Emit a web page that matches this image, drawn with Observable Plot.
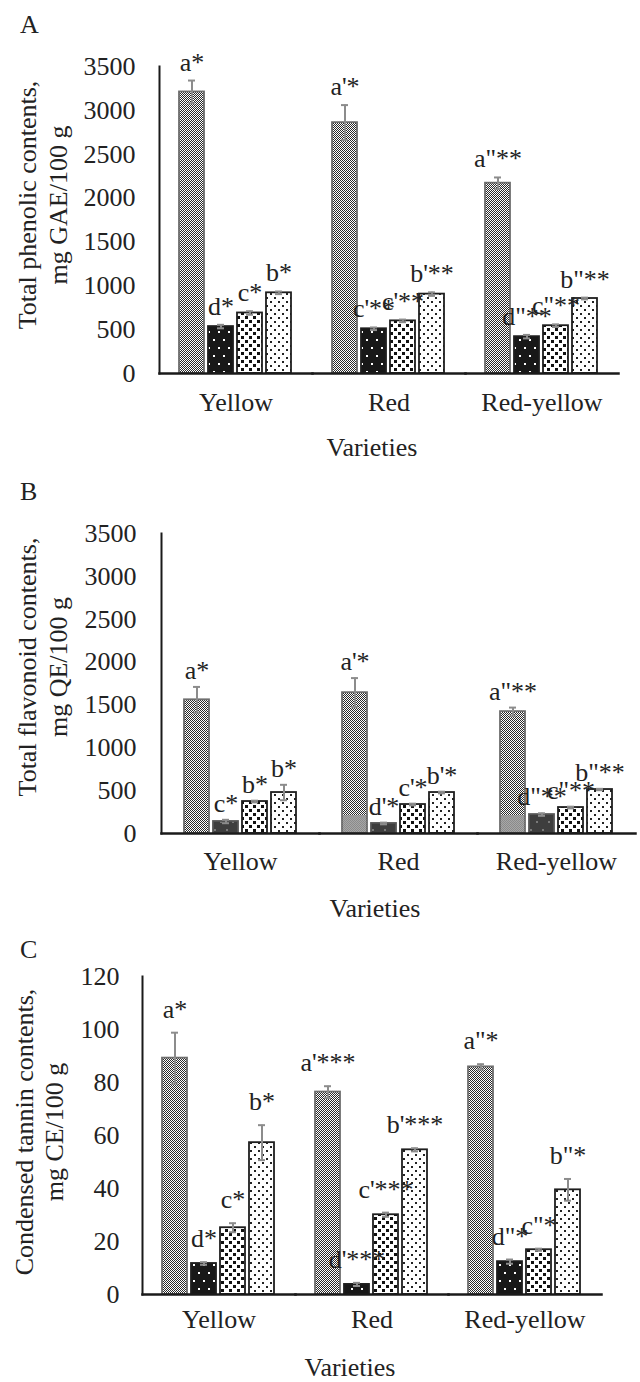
<!DOCTYPE html>
<html>
<head>
<meta charset="utf-8">
<script src="https://cdn.jsdelivr.net/npm/d3@7"></script>
<script src="https://cdn.jsdelivr.net/npm/@observablehq/plot@0.6"></script>
<style>
  html, body { margin: 0; padding: 0; background: #fff; }
  body { width: 640px; font-family: "Liberation Serif", "Times New Roman", serif; }
  #charts svg { display: block; }
</style>
</head>
<body>
<svg width="0" height="0" style="position:absolute">
  <defs>
    <pattern id="pA" width="2" height="2" patternUnits="userSpaceOnUse">
      <rect width="2" height="2" fill="#fff"/>
      <rect width="1" height="1" fill="#2a2a2a"/>
      <rect x="1" y="1" width="1" height="1" fill="#2a2a2a"/>
    </pattern>
    <pattern id="pD" width="10" height="16" patternUnits="userSpaceOnUse">
      <rect width="10" height="16" fill="#181818"/>
      <rect x="2" y="3" width="2" height="2" fill="#fff"/>
      <rect x="7" y="11" width="2" height="2" fill="#fff"/>
    </pattern>
    <pattern id="pDB" width="12" height="16" patternUnits="userSpaceOnUse">
      <rect width="12" height="16" fill="#3e3e3e"/>
      <rect x="3" y="4" width="2" height="2" fill="#7a7a7a"/>
      <rect x="9" y="12" width="2" height="2" fill="#7a7a7a"/>
    </pattern>
    <pattern id="pC" width="8" height="8" patternUnits="userSpaceOnUse">
      <rect width="8" height="8" fill="#fff"/>
      <rect x="0" y="0" width="3" height="3" fill="#111"/>
      <rect x="4" y="4" width="3" height="3" fill="#111"/>
    </pattern>
    <pattern id="pB" width="8" height="8" patternUnits="userSpaceOnUse">
      <rect width="8" height="8" fill="#fff"/>
      <rect x="1" y="1" width="2" height="2" fill="#222"/>
      <rect x="5" y="5" width="2" height="2" fill="#222"/>
    </pattern>
    <pattern id="pGrey" width="2" height="2" patternUnits="userSpaceOnUse">
      <rect width="2" height="2" fill="#a8a8a8"/>
      <rect width="1" height="1" fill="#8a8a8a"/>
      <rect x="1" y="1" width="1" height="1" fill="#8a8a8a"/>
    </pattern>
  </defs>
</svg>
<div id="charts"></div>
<script>
// ---------- data ----------
const varieties = ["Yellow", "Red", "Red-yellow"];
const treatments = ["T1", "T2", "T3", "T4"];

const phenolicMean = [[3210, 535, 690, 920], [2860, 510, 600, 905], [2170, 420, 545, 855]];
const phenolicSD   = [[130, 20, 20, 15], [200, 15, 15, 20], [65, 20, 15, 10]];
const phenolicLabels = [["a*", "d*", "c*", "b*"], ["a'*", "c'**", "c'**", "b'**"], ['a"**', 'd"**', 'c"**', 'b"**']];
const phenolicTicks = [0, 500, 1000, 1500, 2000, 2500, 3000, 3500];

const flavonoidMean = [[1560, 140, 373, 478], [1643, 117, 338, 478], [1422, 221, 303, 513]];
const flavonoidSD   = [[150, 20, 10, 90], [170, 10, 10, 10], [47, 15, 10, 8]];
const flavonoidLabels = [["a*", "c*", "b*", "b*"], ["a'*", "d'*", "c'*", "b'*"], ['a"**', 'd"**', 'c"**', 'b"**']];
const flavonoidShade = [0, 220, 220]; // grey band seen at the foot of the first bar
const flavonoidTicks = [0, 500, 1000, 1500, 2000, 2500, 3000, 3500];

const tanninMean = [[89.2, 11.7, 25.2, 57.3], [76.4, 3.8, 30.1, 54.6], [85.9, 12.4, 16.9, 39.5]];
const tanninSD   = [[9.6, 0.5, 1.7, 6.6], [2.2, 0.6, 0.8, 0.6], [1.0, 0.8, 0.4, 4.1]];
const tanninLabels = [["a*", "d*", "c*", "b*"], ["a'***", "d'***", "c'***", "b'***"], ['a"*', 'd"*', 'c"*', 'b"*']];
const tanninTicks = [0, 20, 40, 60, 80, 100, 120];

function rowsOf(means, sds, labels) {
  const rows = [];
  varieties.forEach((v, i) => treatments.forEach((t, j) => {
    rows.push({variety: v, treatment: t, mean: means[i][j], sd: sds[i][j], label: labels[i][j]});
  }));
  return rows;
}

const INK = "#222";
const FS = 26;

function panel(cfg) {
  const rows = rowsOf(cfg.means, cfg.sds, cfg.labels);
  const pat = {T1: "url(#pA)", T2: cfg.dPattern, T3: "url(#pC)", T4: "url(#pB)"};
  const facetW = (640 - cfg.ml - cfg.mr) / varieties.length;
  const pi = 4 / 30;
  const po = (facetW / 30 - 4 + pi) / 2;
  const marks = [
    Plot.axisY({ticks: cfg.ticks, tickSize: 0, tickPadding: cfg.tickPad, label: null, fontSize: FS, tickFormat: d => String(d)}),
    Plot.axisFx({anchor: "bottom", tickSize: 0, tickPadding: cfg.fxPad, label: null, fontSize: FS}),
    Plot.barY(rows, {fx: "variety", x: "treatment", y: "mean",
      fill: d => pat[d.treatment],
      stroke: d => d.treatment === "T1" ? "#6e6e6e" : cfg.dStroke && d.treatment === "T2" ? cfg.dStroke : "#1e1e1e",
      strokeWidth: 1.8})
  ];
  if (cfg.shade) {
    const shadeRows = varieties.map((v, i) => ({variety: v, treatment: "T1", value: cfg.shade[i]})).filter(d => d.value > 0);
    marks.push(Plot.barY(shadeRows, {fx: "variety", x: "treatment", y: "value", fill: "url(#pGrey)", inset: 1}));
  }
  marks.push(
    Plot.ruleX(rows, {fx: "variety", x: "treatment", y1: d => d.mean - d.sd, y2: d => d.mean + d.sd, stroke: "#8c8c8c", strokeWidth: 2}),
    Plot.tickY(rows, {fx: "variety", x: "treatment", y: d => d.mean + d.sd, insetLeft: 9, insetRight: 9, stroke: "#8c8c8c", strokeWidth: 2}),
    Plot.tickY(rows, {fx: "variety", x: "treatment", y: d => d.mean - d.sd, insetLeft: 9, insetRight: 9, stroke: "#8c8c8c", strokeWidth: 2}),
    Plot.text(rows, {fx: "variety", x: "treatment", y: d => d.mean + d.sd, text: "label", dy: cfg.labelDy, lineAnchor: "bottom", fontSize: FS, fill: INK}),
    Plot.frame({anchor: "bottom", stroke: "#1a1a1a", strokeWidth: 2.5}),
    Plot.frame({anchor: "left", facetAnchor: "left", stroke: "#1a1a1a", strokeWidth: 2})
  );
  const svg = Plot.plot({
    width: 640, height: cfg.height,
    marginLeft: cfg.ml, marginRight: cfg.mr, marginTop: cfg.mt, marginBottom: cfg.mb,
    style: {fontFamily: '"Liberation Serif", "Times New Roman", serif', fontSize: FS + "px", color: INK, background: "#fff"},
    fx: {domain: varieties, padding: 0, label: null},
    x: {domain: treatments, paddingInner: pi, paddingOuter: po, axis: null},
    y: {domain: [0, cfg.ticks[cfg.ticks.length - 1]], axis: null},
    color: {type: "identity"},
    marks
  });
  const s = d3.select(svg);
  const txt = (x, y, t, anchor = "middle", rot = 0) => {
    s.append("text")
      .attr("transform", `translate(${x},${y})` + (rot ? ` rotate(${rot})` : ""))
      .attr("text-anchor", anchor)
      .attr("fill", INK)
      .style("font-size", FS + "px")
      .style("font-family", '"Liberation Serif", "Times New Roman", serif')
      .text(t);
  };
  txt(cfg.letterX, cfg.letterY, cfg.letter, "start");
  txt(cfg.varX, cfg.varY, "Varieties");
  txt(cfg.t1x, cfg.titleCy, cfg.title1, "middle", -90);
  txt(cfg.t2x, cfg.titleCy, cfg.title2, "middle", -90);
  document.getElementById("charts").appendChild(svg);
}

panel({
  letter: "A", means: phenolicMean, sds: phenolicSD, labels: phenolicLabels, ticks: phenolicTicks,
  height: 465, mt: 66, mb: 92, ml: 158, mr: 22, tickPad: 24, fxPad: 19, labelDy: -10,
  dPattern: "url(#pD)",
  letterX: 20, letterY: 33, varX: 372, varY: 456,
  title1: "Total phenolic contents,", title2: "mg GAE/100 g", t1x: 36, t2x: 67, titleCy: 205
});
panel({
  letter: "B", means: flavonoidMean, sds: flavonoidSD, labels: flavonoidLabels, ticks: flavonoidTicks,
  height: 460, mt: 68, mb: 92, ml: 160, mr: 4, tickPad: 25, fxPad: 18, labelDy: -8,
  dPattern: "url(#pDB)", dStroke: "#555", shade: flavonoidShade,
  letterX: 20, letterY: 35, varX: 375, varY: 452,
  title1: "Total flavonoid contents,", title2: "mg QE/100 g", t1x: 36, t2x: 67, titleCy: 202
});
panel({
  letter: "C", means: tanninMean, sds: tanninSD, labels: tanninLabels, ticks: tanninTicks,
  height: 457, mt: 51, mb: 88, ml: 141, mr: 38, tickPad: 23, fxPad: 15, labelDy: -15,
  dPattern: "url(#pD)",
  letterX: 20, letterY: 33, varX: 350, varY: 451,
  title1: "Condensed tannin contents,", title2: "mg CE/100 g", t1x: 33, t2x: 63, titleCy: 207
});
</script>
</body>
</html>
